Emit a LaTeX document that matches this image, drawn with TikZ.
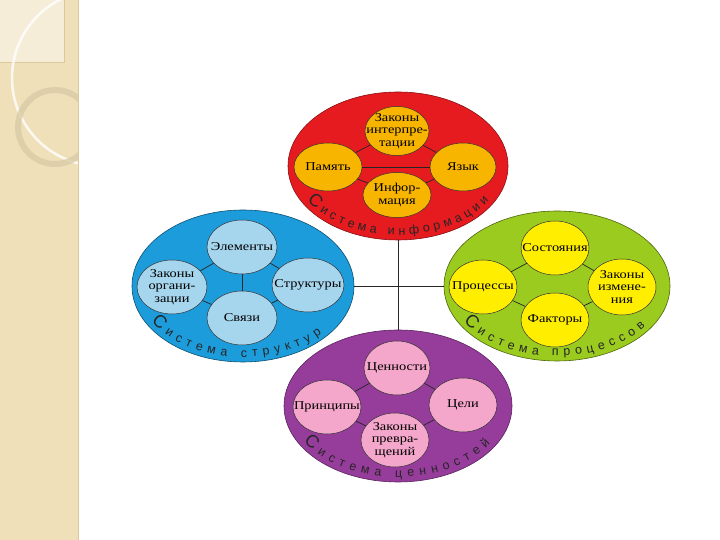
\documentclass[tikz,border=0pt]{standalone}
\usepackage{fontspec}
\setmainfont{Liberation Serif}[FakeStretch=1.2]
\newfontfamily\crvfont{Liberation Sans}
\usetikzlibrary{shapes.geometric,decorations.text}
\definecolor{stripC}{HTML}{EFE0BA}
\definecolor{stripL}{HTML}{F6EDD8}
\definecolor{stripE}{HTML}{DCC89A}
\definecolor{ringC}{HTML}{D8CBA6}
\definecolor{redE}{HTML}{E51B20}
\definecolor{redS}{HTML}{F7B500}
\definecolor{bluE}{HTML}{1C9CDB}
\definecolor{bluS}{HTML}{A6D5EE}
\definecolor{grnE}{HTML}{9BCB1E}
\definecolor{grnS}{HTML}{FFEE00}
\definecolor{purE}{HTML}{963C9B}
\definecolor{purS}{HTML}{F4A6CB}
\newcommand\crvbig{\crvfont\fontsize{18}{18}\selectfont}
\newcommand\crvsmall{\crvfont\fontsize{12.5}{12.5}\selectfont}
\tikzset{
  bigell/.style={ellipse, inner sep=0pt, line width=0.6pt},
  subell/.style={ellipse, inner sep=0pt, minimum width=68pt, minimum height=54pt,
    draw=black!80, line width=0.5pt},
  sublabel/.style={inner sep=0pt, align=center, font=\fontsize{12}{12.5}\selectfont, text=black},
  link/.style={line width=0.7pt, draw=black!85},
  curvetext/.style={decorate, decoration={text along path, text align={fit to path}, text color=black!85}}
}
\begin{document}
\begin{tikzpicture}[x=1pt,y=1pt]
\useasboundingbox (0,0) rectangle (720,540);
% decorative strip
\fill[stripC] (0,0) rectangle (78,540);
\begin{scope}
  \clip (0,0) rectangle (78,540);
  \fill[stripL] (0,478) rectangle (64,540);
  \draw[stripE, line width=0.6pt] (0,478) -- (64,478) -- (64,540);
  \draw[white, opacity=0.8, line width=2.5pt] (100,462) circle[radius=88];
  \draw[ringC, opacity=0.8, line width=6pt] (55,413) circle[radius=37];
\end{scope}
\draw[stripE, line width=1pt] (78,0) -- (78,540);

% big ellipses
\node[bigell, fill=redE, draw=redE!60!black, minimum width=220pt, minimum height=148pt] (inf) at (398,374) {};
\node[bigell, fill=bluE, draw=bluE!50!black, minimum width=222pt, minimum height=152pt] (str) at (243,254) {};
\node[bigell, fill=grnE, draw=grnE!50!black, minimum width=226pt, minimum height=150pt] (pro) at (557,254) {};
\node[bigell, fill=purE, draw=purE!60!black, minimum width=228pt, minimum height=152pt] (cen) at (398,134) {};

% cross
\draw[link] (inf) -- (cen);
\draw[link] (str) -- (pro);

% red group
\node[subell, fill=redS, minimum width=64pt, minimum height=49pt,
  label={[sublabel]center:Законы\\интерпре-\\тации}] (zak1) at (397,409) {};
\node[subell, fill=redS, minimum height=48pt, label={[sublabel]center:Память}] (pam) at (328,373) {};
\node[subell, fill=redS, minimum width=66pt, minimum height=48pt, label={[sublabel]center:Язык}] (yaz) at (463,373) {};
\node[subell, fill=redS, minimum height=45pt, label={[sublabel]center:Инфор-\\мация}] (infm) at (397,345) {};
\draw[link] (zak1) -- (pam);
\draw[link] (zak1) -- (yaz);
\draw[link] (infm) -- (pam);
\draw[link] (infm) -- (yaz);
\draw[link] (pam) -- (yaz);

% blue group
\node[subell, fill=bluS, minimum width=70pt, label={[sublabel]center:Элементы}] (elem) at (242,293) {};
\node[subell, fill=bluS, minimum width=70pt, label={[sublabel]center:Законы\\органи-\\зации}] (zorg) at (172,253) {};
\node[subell, fill=bluS, minimum width=72pt, label={[sublabel]center:Структуры}] (stru) at (308,255) {};
\node[subell, fill=bluS, minimum width=70pt, label={[sublabel]center:Связи}] (svaz) at (242,222) {};
\draw[link] (elem) -- (zorg);
\draw[link] (elem) -- (stru);
\draw[link] (svaz) -- (zorg);
\draw[link] (svaz) -- (stru);
\draw[link] (elem) -- (svaz);

% green group
\node[subell, fill=grnS, label={[sublabel]center:Состояния}] (sost) at (555,292) {};
\node[subell, fill=grnS, label={[sublabel]center:Процессы}] (proc) at (483,253) {};
\node[subell, fill=grnS, minimum height=56pt, label={[sublabel]center:Законы\\измене-\\ния}] (zizm) at (622,253) {};
\node[subell, fill=grnS, label={[sublabel]center:Факторы}] (fakt) at (555,220) {};
\draw[link] (sost) -- (proc);
\draw[link] (sost) -- (zizm);
\draw[link] (fakt) -- (proc);
\draw[link] (fakt) -- (zizm);

% purple group
\node[subell, fill=purS, minimum width=66pt, label={[sublabel]center:Ценности}] (cenn) at (397,172) {};
\node[subell, fill=purS, label={[sublabel]center:Принципы}] (prin) at (327,133) {};
\node[subell, fill=purS, label={[sublabel]center:Цели}] (celi) at (463,135) {};
\node[subell, fill=purS, label={[sublabel]center:Законы\\превра-\\щений}] (zpre) at (395,100) {};
\draw[link] (cenn) -- (prin);
\draw[link] (cenn) -- (celi);
\draw[link] (zpre) -- (prin);
\draw[link] (zpre) -- (celi);

% curved labels
\path[curvetext, decoration={text={|\crvbig|С|\crvsmall|истема информации}}]
  ([shift={(210:105 and 69)}]inf.center) arc[start angle=210, end angle=330, x radius=105, y radius=69];
\path[curvetext, decoration={text={|\crvbig|С|\crvsmall|истема структур}}]
  ([shift={(210:106 and 71)}]str.center) arc[start angle=210, end angle=318, x radius=106, y radius=71];
\path[curvetext, decoration={text={|\crvbig|С|\crvsmall|истема процессов}}]
  ([shift={(210:108 and 70)}]pro.center) arc[start angle=210, end angle=325, x radius=108, y radius=70];
\path[curvetext, decoration={text={|\crvbig|С|\crvsmall|истема ценностей}}]
  ([shift={(210:109 and 71)}]cen.center) arc[start angle=210, end angle=328, x radius=109, y radius=71];
\end{tikzpicture}
\end{document}
